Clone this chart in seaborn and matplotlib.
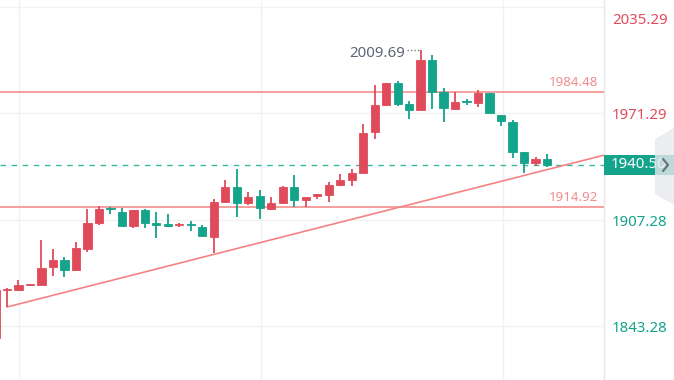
import numpy as np
import pandas as pd
import seaborn as sns
import matplotlib
matplotlib.use("Agg")
import matplotlib.pyplot as plt
import matplotlib.transforms as mtransforms
from matplotlib.patches import Rectangle, Polygon
from matplotlib.lines import Line2D

# ---------------- data ----------------
# first candle is only partly visible at the left edge
opens = [1836.0, 1864.9, 1864.91, 1867.62, 1867.92, 1878.76, 1882.98, 1876.95, 1889.60, 1905.27, 1914.00,
         1911.89, 1903.46, 1913.10, 1904.97, 1904.66, 1903.76, 1904.36, 1902.86, 1896.83, 1917.92,
         1926.95, 1917.32, 1921.53, 1913.70, 1917.32, 1926.95, 1919.12, 1921.83, 1922.13, 1928.16,
         1931.17, 1935.39, 1960.09, 1976.35, 1989.60, 1976.95, 1973.34, 2003.46, 1984.18, 1973.94,
         1978.46, 1977.56, 1983.58, 1970.33, 1966.11, 1948.04, 1941.41, 1943.82]
highs = [1866.0, 1866.11, 1870.93, 1868.52, 1895.03, 1889.60, 1884.79, 1893.82, 1913.70, 1915.51, 1914.90,
         1914.30, 1913.10, 1913.70, 1911.89, 1910.69, 1905.27, 1906.47, 1904.06, 1919.72, 1931.17,
         1937.80, 1923.94, 1925.15, 1920.93, 1927.56, 1934.18, 1920.93, 1922.74, 1929.97, 1934.78,
         1937.80, 1964.90, 1988.40, 1989.60, 1990.81, 1978.76, 2009.69, 2006.47, 1986.59, 1984.18,
         1979.96, 1985.39, 1983.58, 1970.33, 1967.31, 1948.04, 1945.03, 1946.83]
lows = [1835.5, 1854.67, 1864.30, 1867.32, 1867.92, 1873.34, 1872.74, 1876.35, 1887.80, 1904.06, 1910.69,
        1903.46, 1902.25, 1902.25, 1896.23, 1902.86, 1902.86, 1900.45, 1897.44, 1887.19, 1917.32,
        1908.88, 1916.11, 1907.68, 1913.10, 1916.71, 1914.90, 1914.90, 1919.72, 1917.92, 1927.56,
        1927.56, 1935.39, 1955.87, 1975.75, 1975.75, 1967.92, 1973.34, 1973.94, 1966.11, 1973.34,
        1976.35, 1975.15, 1971.53, 1963.70, 1944.42, 1935.39, 1939.60, 1939.00]
closes = [1864.9, 1865.21, 1867.92, 1867.92, 1878.16, 1882.98, 1876.95, 1890.21, 1905.27, 1913.70, 1913.40,
          1903.46, 1913.10, 1905.27, 1904.36, 1903.46, 1904.36, 1903.76, 1897.44, 1917.92, 1926.95,
          1917.32, 1920.93, 1914.30, 1917.32, 1926.95, 1919.12, 1920.93, 1922.13, 1928.16, 1931.17,
          1935.39, 1959.48, 1976.35, 1989.60, 1976.95, 1973.34, 2003.46, 1984.18, 1974.54, 1978.16,
          1977.86, 1983.58, 1971.53, 1966.71, 1948.04, 1941.41, 1943.82, 1940.50]

axis_ticks = [2035.29, 1971.29, 1907.28, 1843.28]
axis_labels = ["2035.29", "1971.29", "1907.28", "1843.28"]
level_lines = [1984.48, 1914.92]
level_labels = ["1984.48", "1914.92"]
last_price = 1940.50
last_label = "1940.50"
peak_label = "2009.69"
trend_x = [0, 52]
trend_y = [1854.67, 1946.2]
vgrid_x = [1.04, 22.1, 43.15]

# ---------------- style ----------------
RED = "#e04b5b"
GREEN = "#14a38b"
SALMON = "#f48484"
GRID = "#f1f1f4"

sns.set_theme(style="white")
plt.rcParams["font.family"] = ["Noto Sans", "DejaVu Sans"]

W, H = 674, 380
fig = plt.figure(figsize=(W / 100, H / 100), dpi=100)
fig.patch.set_facecolor("white")
ax = fig.add_axes([0, 0, 604 / W, 1])
ax.set_facecolor("white")

df = pd.DataFrame({"open": opens, "high": highs, "low": lows, "close": closes})
df["idx"] = np.arange(len(df)) - 1
df["up"] = df["close"] >= df["open"]
df["color"] = np.where(df["up"], RED, GREEN)
df["bottom"] = df[["open", "close"]].min(axis=1)
df["height"] = (df["close"] - df["open"]).abs().clip(lower=0.9)

ax.set_xlim(-0.609, 51.96)
ax.set_ylim(1810.69, 2039.60)

# grid
for t in axis_ticks:
    ax.axhline(t, color=GRID, lw=1.0, zorder=0)
for vx in vgrid_x:
    ax.axvline(vx, color=GRID, lw=1.0, zorder=0)

# level lines
for lv, lb in zip(level_lines, level_labels):
    ax.axhline(lv, color=SALMON, lw=1.1, zorder=1)
    ax.annotate(lb, xy=(0.99, lv), xycoords=ax.get_yaxis_transform(),
                xytext=(0, 2.5), textcoords="offset pixels", ha="right", va="bottom",
                color="#f28c8c", fontsize=9.6)

# current price dashed line
ax.axhline(last_price, color="#35b8a0", lw=1.0, ls=(0, (4, 4)), zorder=1)

# trend line
sns.lineplot(x=trend_x, y=trend_y, color=SALMON, lw=1.2, ax=ax, zorder=2)

# candles
ax.vlines(df["idx"], df["low"], df["high"], colors=df["color"], lw=1.3, zorder=3)
ax.bar(df["idx"], df["height"], bottom=df["bottom"], width=0.72,
       color=df["color"], edgecolor=df["color"], lw=0.6, zorder=4)

# peak annotation
pk = int(np.argmax(highs))
pkx = df["idx"].iloc[pk]
ax.plot([pkx - 1.15, pkx - 0.1], [highs[pk], highs[pk]], ls=(0, (1, 1.5)), color="#7a7f8c", lw=1.0, zorder=5)
ax.annotate(peak_label, xy=(pkx - 1.4, highs[pk]), xycoords="data",
            xytext=(0, -4), textcoords="offset pixels", ha="right", va="center",
            color="#5f6575", fontsize=10.8)

# spines / ticks
for s in ["top", "left", "bottom"]:
    ax.spines[s].set_visible(False)
ax.spines["right"].set_color("#e6e6ec")
ax.spines["right"].set_linewidth(1.0)
ax.set_xticks([])
ax.set_yticks([])

# right axis labels
ytr = ax.get_yaxis_transform()
offsets = [-13, -2.6, -2.6, -2.6]
for t, lb, off in zip(axis_ticks, axis_labels, offsets):
    col = RED if t > last_price else GREEN
    ax.annotate(lb, xy=(612 / 604, t), xycoords=ytr, xytext=(0, off),
                textcoords="offset pixels", ha="left", va="center",
                color=col, fontsize=10.8, annotation_clip=False)

# current price box
box_h = 20 / 1.66
ax.add_patch(Rectangle((1.0, last_price - box_h / 2), 70 / 604, box_h, transform=ytr,
                       facecolor=GREEN, edgecolor="none", clip_on=False, zorder=6))
ax.annotate(last_label, xy=(611 / 604, last_price), xycoords=ytr, xytext=(0, 0),
            textcoords="offset pixels", ha="left", va="center",
            color="white", fontsize=10.8, annotation_clip=False, zorder=7)

# side handle widget
def fp(x, y):
    return (x / W, 1 - y / H)

hexpts = [fp(674, 128), fp(655, 139), fp(655, 194), fp(674, 205)]
fig.patches.append(Polygon(hexpts, closed=True, transform=fig.transFigure,
                           facecolor="#e8e9ee", edgecolor="none", alpha=0.8, zorder=8))
xs, ys = zip(fp(663, 159), fp(668, 165), fp(663, 171))
fig.lines.append(Line2D(xs, ys, transform=fig.transFigure, color="#6d7180", lw=1.6, zorder=9))

fig.savefig("out.png", dpi=100)
